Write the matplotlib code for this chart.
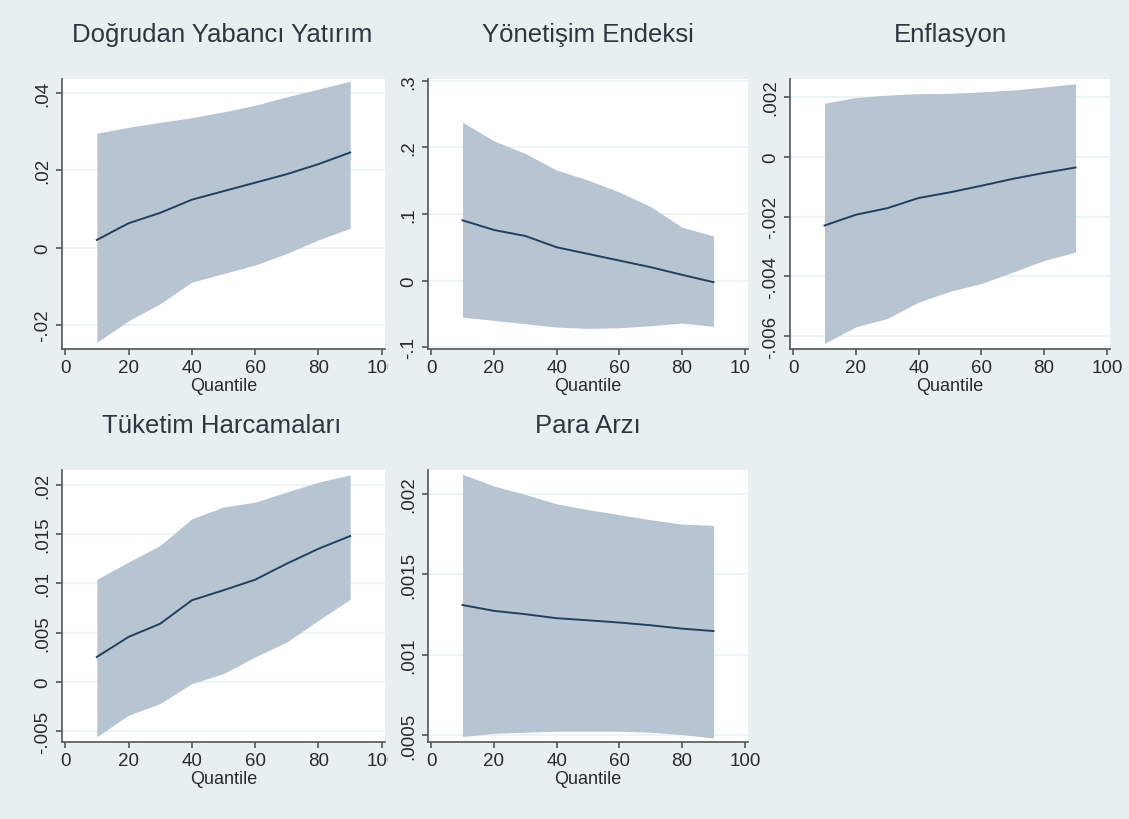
import matplotlib
matplotlib.use('Agg')
import matplotlib.pyplot as plt

plt.rcParams['font.family'] = ['Liberation Sans', 'DejaVu Sans']

quantiles = [10, 20, 30, 40, 50, 60, 70, 80, 90]

# Doğrudan Yabancı Yatırım
dyy_coef = [0.0020, 0.0063, 0.0090, 0.0124, 0.0146, 0.0168, 0.0190, 0.0216, 0.0246]
dyy_upper = [0.0296, 0.0311, 0.0324, 0.0336, 0.0351, 0.0368, 0.0390, 0.0410, 0.0430]
dyy_lower = [-0.0245, -0.0189, -0.0145, -0.0089, -0.0067, -0.0045, -0.0015, 0.0020, 0.0050]
dyy_ticks = [-0.02, 0, 0.02, 0.04]
dyy_labels = ['-.02', '0', '.02', '.04']

# Yönetişim Endeksi
ye_coef = [0.0905, 0.076, 0.067, 0.050, 0.040, 0.030, 0.020, 0.0085, -0.0025]
ye_upper = [0.238, 0.210, 0.191, 0.166, 0.151, 0.133, 0.111, 0.080, 0.067]
ye_lower = [-0.055, -0.060, -0.065, -0.070, -0.072, -0.071, -0.068, -0.064, -0.069]
ye_ticks = [-0.1, 0, 0.1, 0.2, 0.3]
ye_labels = ['-.1', '0', '.1', '.2', '.3']

# Enflasyon
enf_coef = [-0.00230, -0.00194, -0.00172, -0.00138, -0.00119, -0.00097, -0.00074, -0.00054, -0.00036]
enf_upper = [0.00179, 0.00198, 0.00206, 0.00211, 0.00212, 0.00217, 0.00223, 0.00233, 0.00244]
enf_lower = [-0.00624, -0.00569, -0.00541, -0.00486, -0.00450, -0.00424, -0.00386, -0.00347, -0.00319]
enf_ticks = [-0.006, -0.004, -0.002, 0, 0.002]
enf_labels = ['-.006', '-.004', '-.002', '0', '.002']

# Tüketim Harcamaları
th_coef = [0.00253, 0.00456, 0.00590, 0.00828, 0.00930, 0.01037, 0.01200, 0.01351, 0.01480]
th_upper = [0.01040, 0.01216, 0.01385, 0.01655, 0.01774, 0.01824, 0.01926, 0.02027, 0.02101]
th_lower = [-0.00557, -0.00338, -0.00220, -0.00017, 0.00084, 0.00253, 0.00405, 0.00625, 0.00838]
th_ticks = [-0.005, 0, 0.005, 0.01, 0.015, 0.02]
th_labels = ['-.005', '0', '.005', '.01', '.015', '.02']

# Para Arzı
pa_coef = [0.001309, 0.001273, 0.001252, 0.001227, 0.001214, 0.001200, 0.001183, 0.001162, 0.001147]
pa_upper = [0.002124, 0.002050, 0.001998, 0.001939, 0.001903, 0.001872, 0.001840, 0.001813, 0.001805]
pa_lower = [0.000490, 0.000510, 0.000517, 0.000523, 0.000523, 0.000523, 0.000517, 0.000502, 0.000481]
pa_ticks = [0.0005, 0.001, 0.0015, 0.002]
pa_labels = ['.0005', '.001', '.0015', '.002']

x_ticks = [0, 20, 40, 60, 80, 100]
x_labels = ['0', '20', '40', '60', '80', '100']

W, H = 1129, 820
BG = '#E8EFF1'
BAND = '#B7C5D3'
LINE = '#233F5E'
AXC = '#555555'

# column edges in pixels (the next cell hides the overflow of the previous one)
col_edges = [0, 388, 750, W]

panels = [
    # title, coef, upper, lower, ticks, labels, ylim, (spine_x, top_y, bottom_y, width), cell (col, row)
    ('Doğrudan Yabancı Yatırım', dyy_coef, dyy_upper, dyy_lower, dyy_ticks, dyy_labels,
     (-0.0262, 0.0436), (62, 80, 350, 323), (0, 0)),
    ('Yönetişim Endeksi', ye_coef, ye_upper, ye_lower, ye_ticks, ye_labels,
     (-0.103, 0.303), (428, 80, 350, 320), (1, 0)),
    ('Enflasyon', enf_coef, enf_upper, enf_lower, enf_ticks, enf_labels,
     (-0.00643, 0.0026), (790, 80, 350, 320), (2, 0)),
    ('Tüketim Harcamaları', th_coef, th_upper, th_lower, th_ticks, th_labels,
     (-0.0061, 0.0215), (62, 471, 743, 323), (0, 1)),
    ('Para Arzı', pa_coef, pa_upper, pa_lower, pa_ticks, pa_labels,
     (0.000456, 0.00215), (428, 471, 743, 320), (1, 1)),
]

fig = plt.figure(figsize=(W / 100, H / 100), dpi=100)
fig.patch.set_facecolor(BG)

cell_h = H / 2

for i, (title, coef, upper, lower, ticks, labels, ylim, pos, cell) in enumerate(panels):
    col, row = cell
    x0, x1 = col_edges[col], col_edges[col + 1]
    bg = fig.add_axes([x0 / W, 1 - (row + 1) * cell_h / H, (x1 - x0) / W, cell_h / H])
    bg.set_facecolor(BG)
    bg.set_xticks([])
    bg.set_yticks([])
    for s in bg.spines.values():
        s.set_visible(False)
    bg.set_zorder(2 * i)

    sx, top, bot, pw = pos
    ax = fig.add_axes([sx / W, 1 - bot / H, pw / W, (bot - top) / H])
    ax.set_zorder(2 * i + 1)
    ax.set_facecolor('white')

    ax.fill_between(quantiles, lower, upper, color=BAND, linewidth=0, zorder=2)
    ax.plot(quantiles, coef, color=LINE, linewidth=1.4, zorder=3)

    ax.set_xlim(-1, 101)
    ax.set_ylim(*ylim)
    ax.set_xticks(x_ticks)
    ax.set_xticklabels(x_labels)
    ax.set_yticks(ticks)
    ax.set_yticklabels(labels)
    ax.yaxis.grid(True, color='#EAF2F3', linewidth=1.2, zorder=1)
    ax.set_axisbelow(True)

    for side in ['top', 'right']:
        ax.spines[side].set_visible(False)
    for side in ['left', 'bottom']:
        ax.spines[side].set_color(AXC)
        ax.spines[side].set_linewidth(1.2)

    ax.tick_params(axis='both', direction='out', length=4, width=1.2, color=AXC,
                   labelsize=13.5, labelcolor='#2a2a2a', pad=3)
    ax.tick_params(axis='y', labelrotation=90, pad=4)
    for lab in ax.get_yticklabels():
        lab.set_va('center')

    ax.set_xlabel('Quantile', fontsize=13, color='#2a2a2a', labelpad=1)

    tx = (sx + 320 / 2) / W
    ty = 1 - (42 if row == 0 else 433) / H
    fig.text(tx, ty, title, ha='center', va='baseline', fontsize=18.5, color='#2E3640',
             zorder=100)

fig.savefig('out.png', dpi=100, facecolor=BG)
